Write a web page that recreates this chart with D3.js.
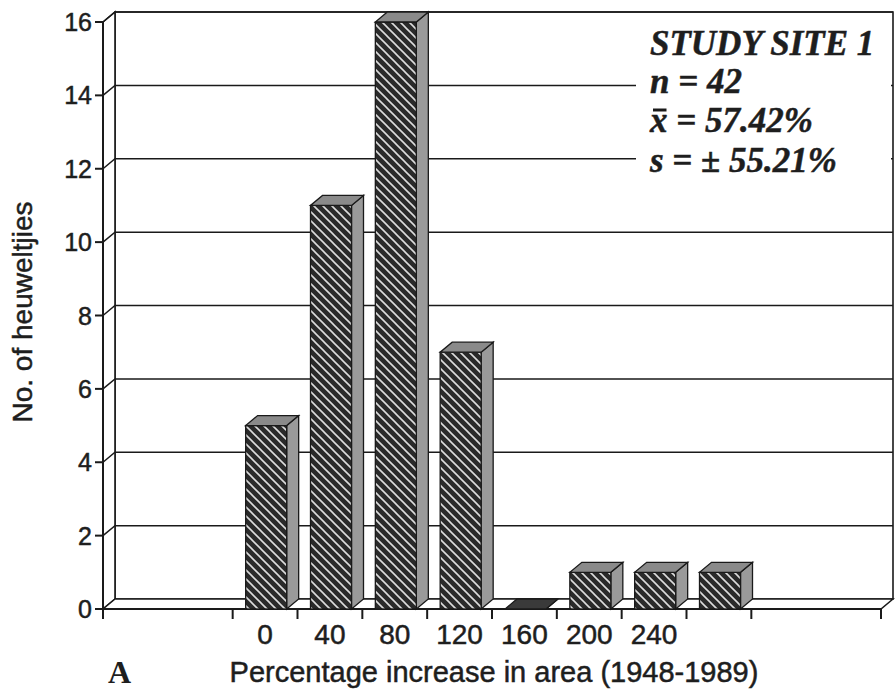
<!DOCTYPE html>
<html>
<head>
<meta charset="utf-8">
<script src="https://cdn.jsdelivr.net/npm/d3@7"></script>
<style>
  body { margin: 0; background: #fff; }
  text { fill: #1e1e1e; }
  .heavy { stroke: #1e1e1e; stroke-width: 0.5px; }
</style>
</head>
<body>
<svg id="chart"></svg>
<script>
// data
const categories = ["", "", "0", "40", "80", "120", "160", "200", "240", "", "", ""];
const counts = [null, null, 5, 11, 16, 7, 0, 1, 1, 1, null, null];
const yTickValues = [0, 2, 4, 6, 8, 10, 12, 14, 16];
const xTickBounds = [0, 2, 3, 4, 5, 6, 7, 8, 9, 10, 12];
const statLines = ["STUDY SITE 1", "n = 42", "x = 57.42%", "s = \u00b1 55.21%"];

const width = 895, height = 692;
const dx = 12, dy = -10;   // depth offset of the 3d box
const ink = "#1a1a1a";
const sans = "'Liberation Sans', Arial, Helvetica, sans-serif";
const serif = "'Liberation Serif', 'Times New Roman', serif";

const svg = d3.select("#chart")
    .attr("width", width)
    .attr("height", height);

// hatch for the bar fronts
const defs = svg.append("defs");
const pat = defs.append("pattern")
    .attr("id", "hatch")
    .attr("patternUnits", "userSpaceOnUse")
    .attr("width", 9)
    .attr("height", 9);
pat.append("rect").attr("width", 9).attr("height", 9).attr("fill", "#2a2a2a");
pat.append("path")
    .attr("d", "M-2,-2L11,11M-2,7L2,11M7,-2L11,2")
    .attr("stroke", "#dcdcdc")
    .attr("stroke-width", 1.6);

const x = d3.scaleBand()
    .domain(d3.range(categories.length))
    .range([103, 881])
    .padding(0);

const y = d3.scaleLinear()
    .domain([0, 16])
    .range([609, 22]);

const bound = i => i < categories.length ? x(i) : x.range()[1];
const x0 = x.range()[0], x1 = x.range()[1];
const yb = y(0), yt = y(16);

const pts = p => p.map(d => d.join(",")).join(" ");

// walls and floor
svg.append("polygon")
    .attr("points", pts([[x0 + dx, yt + dy], [x1 + dx, yt + dy], [x1 + dx, yb + dy], [x0 + dx, yb + dy]]))
    .attr("fill", "#fff").attr("stroke", ink).attr("stroke-width", 1.6);
svg.append("polygon")
    .attr("points", pts([[x0, yt], [x0 + dx, yt + dy], [x0 + dx, yb + dy], [x0, yb]]))
    .attr("fill", "#fff").attr("stroke", ink).attr("stroke-width", 1.6);
svg.append("polygon")
    .attr("points", pts([[x0, yb], [x1, yb], [x1 + dx, yb + dy], [x0 + dx, yb + dy]]))
    .attr("fill", "#fff").attr("stroke", ink).attr("stroke-width", 1.6);

// gridlines
svg.selectAll(".grid")
    .data(yTickValues.filter(v => v > 0))
    .enter()
    .append("path")
    .attr("class", "grid")
    .attr("d", v => `M${x0},${y(v)}L${x0 + dx},${y(v) + dy}L${x1 + dx},${y(v) + dy}`)
    .attr("fill", "none")
    .attr("stroke", ink)
    .attr("stroke-width", 1.5);

// y axis
svg.append("line")
    .attr("x1", x0).attr("x2", x0).attr("y1", yt).attr("y2", yb)
    .attr("stroke", ink).attr("stroke-width", 2);
svg.selectAll(".ytick")
    .data(yTickValues)
    .enter()
    .append("line")
    .attr("x1", x0 - 8).attr("x2", x0)
    .attr("y1", v => y(v)).attr("y2", v => y(v))
    .attr("stroke", ink).attr("stroke-width", 2);
svg.selectAll(".ylab")
    .data(yTickValues)
    .enter()
    .append("text")
    .attr("class", "heavy")
    .attr("x", x0 - 11)
    .attr("y", v => y(v))
    .attr("dy", "0.36em")
    .attr("text-anchor", "end")
    .style("font-family", sans)
    .style("font-size", "25px")
    .text(v => v);

// x axis
svg.append("line")
    .attr("x1", x0).attr("x2", x1).attr("y1", yb).attr("y2", yb)
    .attr("stroke", ink).attr("stroke-width", 2);
svg.selectAll(".xtick")
    .data(xTickBounds)
    .enter()
    .append("line")
    .attr("x1", i => bound(i)).attr("x2", i => bound(i))
    .attr("y1", yb).attr("y2", yb + 10)
    .attr("stroke", ink).attr("stroke-width", 2);
svg.selectAll(".xlab")
    .data(categories)
    .enter()
    .append("text")
    .attr("class", "heavy")
    .attr("x", (d, i) => x(i) + x.bandwidth() / 2)
    .attr("y", 644)
    .attr("text-anchor", "middle")
    .style("font-family", sans)
    .style("font-size", "28px")
    .text(d => d);

// bars
const bars = counts.map((v, i) => ({ i, v })).filter(d => d.v !== null);
const bw = 41, off = 13;
const g = svg.append("g");
bars.forEach(d => {
    const bx = x(d.i) + off;
    const top = y(d.v);
    g.append("polygon")
        .attr("points", pts([[bx + bw, yb], [bx + bw + dx, yb + dy], [bx + bw + dx, top + dy], [bx + bw, top]]))
        .attr("fill", "#9a9a9a").attr("stroke", ink).attr("stroke-width", 1.3);
    if (d.v > 0) {
        g.append("rect")
            .attr("x", bx).attr("y", top)
            .attr("width", bw).attr("height", yb - top)
            .attr("fill", "url(#hatch)").attr("stroke", ink).attr("stroke-width", 1.3);
    }
    g.append("polygon")
        .attr("points", pts([[bx, top], [bx + bw, top], [bx + bw + dx, top + dy], [bx + dx, top + dy]]))
        .attr("fill", d.v > 0 ? "#8a8a8a" : "#3a3a3a").attr("stroke", ink).attr("stroke-width", 1.3);
});

// stats box
svg.append("rect")
    .attr("x", 636).attr("y", 14)
    .attr("width", 255).attr("height", 180)
    .attr("fill", "#fff");
const stats = svg.selectAll(".stat")
    .data(statLines)
    .enter()
    .append("text")
    .attr("class", "stat heavy")
    .attr("x", 650)
    .attr("y", (d, i) => [55, 93, 132, 172][i])
    .style("font-family", serif)
    .style("font-weight", "bold")
    .style("font-style", "italic")
    .style("font-size", "35px")
    .text(d => d);
// bar over the x for the mean
const meanNode = stats.nodes()[2];
const ext = meanNode.getExtentOfChar(0);
svg.append("line")
    .attr("x1", ext.x + 3).attr("x2", ext.x + ext.width - 1)
    .attr("y1", 110).attr("y2", 110)
    .attr("stroke", ink).attr("stroke-width", 3);

// axis titles
svg.append("text")
    .attr("class", "heavy")
    .attr("transform", "translate(32,312) rotate(-90)")
    .attr("text-anchor", "middle")
    .style("font-family", sans)
    .style("font-size", "28px")
    .text("No. of heuweltjies");

svg.append("text")
    .attr("class", "heavy")
    .attr("x", 494)
    .attr("y", 682)
    .attr("text-anchor", "middle")
    .style("font-family", sans)
    .style("font-size", "29px")
    .text("Percentage increase in area (1948-1989)");

svg.append("text")
    .attr("x", 108)
    .attr("y", 683)
    .style("font-family", serif)
    .style("font-weight", "bold")
    .style("font-size", "32px")
    .text("A");
</script>
</body>
</html>
